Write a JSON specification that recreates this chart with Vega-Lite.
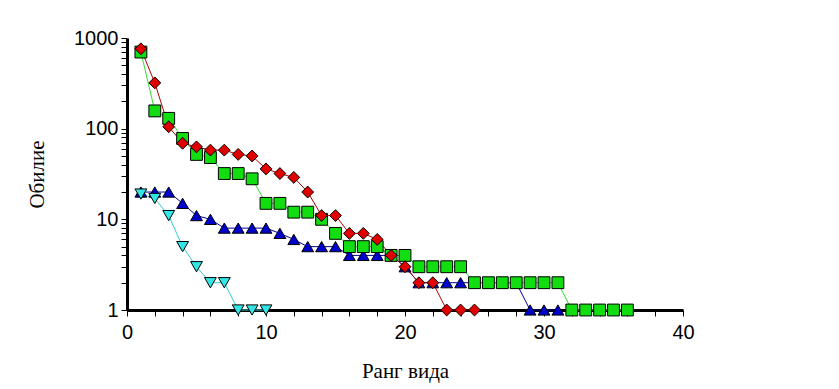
{
  "$schema": "https://vega.github.io/schema/vega-lite/v6.json",
  "autosize": {"type": "none"},
  "width": 556,
  "height": 272,
  "padding": {"left": 127, "top": 38, "right": 156, "bottom": 79},
  "background": "white",
  "config": {"view": {"stroke": null}},
  "data": {"values": [
    {"s": "1", "r": 1, "v": 20}, {"s": "1", "r": 2, "v": 20}, {"s": "1", "r": 3, "v": 20}, {"s": "1", "r": 4, "v": 15},
    {"s": "1", "r": 5, "v": 11}, {"s": "1", "r": 6, "v": 10}, {"s": "1", "r": 7, "v": 8}, {"s": "1", "r": 8, "v": 8},
    {"s": "1", "r": 9, "v": 8}, {"s": "1", "r": 10, "v": 8}, {"s": "1", "r": 11, "v": 7}, {"s": "1", "r": 12, "v": 6},
    {"s": "1", "r": 13, "v": 5}, {"s": "1", "r": 14, "v": 5}, {"s": "1", "r": 15, "v": 5}, {"s": "1", "r": 16, "v": 4},
    {"s": "1", "r": 17, "v": 4}, {"s": "1", "r": 18, "v": 4}, {"s": "1", "r": 19, "v": 4}, {"s": "1", "r": 20, "v": 3},
    {"s": "1", "r": 21, "v": 2}, {"s": "1", "r": 22, "v": 2}, {"s": "1", "r": 23, "v": 2}, {"s": "1", "r": 24, "v": 2},
    {"s": "1", "r": 25, "v": 2}, {"s": "1", "r": 26, "v": 2}, {"s": "1", "r": 27, "v": 2}, {"s": "1", "r": 28, "v": 2},
    {"s": "1", "r": 29, "v": 1}, {"s": "1", "r": 30, "v": 1}, {"s": "1", "r": 31, "v": 1},
    {"s": "2", "r": 1, "v": 700}, {"s": "2", "r": 2, "v": 157}, {"s": "2", "r": 3, "v": 130}, {"s": "2", "r": 4, "v": 78},
    {"s": "2", "r": 5, "v": 52}, {"s": "2", "r": 6, "v": 48}, {"s": "2", "r": 7, "v": 32}, {"s": "2", "r": 8, "v": 32},
    {"s": "2", "r": 9, "v": 28}, {"s": "2", "r": 10, "v": 15}, {"s": "2", "r": 11, "v": 15}, {"s": "2", "r": 12, "v": 12},
    {"s": "2", "r": 13, "v": 12}, {"s": "2", "r": 14, "v": 10}, {"s": "2", "r": 15, "v": 7}, {"s": "2", "r": 16, "v": 5},
    {"s": "2", "r": 17, "v": 5}, {"s": "2", "r": 18, "v": 5}, {"s": "2", "r": 19, "v": 4}, {"s": "2", "r": 20, "v": 4},
    {"s": "2", "r": 21, "v": 3}, {"s": "2", "r": 22, "v": 3}, {"s": "2", "r": 23, "v": 3}, {"s": "2", "r": 24, "v": 3},
    {"s": "2", "r": 25, "v": 2}, {"s": "2", "r": 26, "v": 2}, {"s": "2", "r": 27, "v": 2}, {"s": "2", "r": 28, "v": 2},
    {"s": "2", "r": 29, "v": 2}, {"s": "2", "r": 30, "v": 2}, {"s": "2", "r": 31, "v": 2}, {"s": "2", "r": 32, "v": 1},
    {"s": "2", "r": 33, "v": 1}, {"s": "2", "r": 34, "v": 1}, {"s": "2", "r": 35, "v": 1}, {"s": "2", "r": 36, "v": 1},
    {"s": "3", "r": 1, "v": 19}, {"s": "3", "r": 2, "v": 17}, {"s": "3", "r": 3, "v": 11}, {"s": "3", "r": 4, "v": 5},
    {"s": "3", "r": 5, "v": 3}, {"s": "3", "r": 6, "v": 2}, {"s": "3", "r": 7, "v": 2}, {"s": "3", "r": 8, "v": 1},
    {"s": "3", "r": 9, "v": 1}, {"s": "3", "r": 10, "v": 1},
    {"s": "4", "r": 1, "v": 760}, {"s": "4", "r": 2, "v": 320}, {"s": "4", "r": 3, "v": 105}, {"s": "4", "r": 4, "v": 69},
    {"s": "4", "r": 5, "v": 63}, {"s": "4", "r": 6, "v": 58}, {"s": "4", "r": 7, "v": 58}, {"s": "4", "r": 8, "v": 52},
    {"s": "4", "r": 9, "v": 50}, {"s": "4", "r": 10, "v": 36}, {"s": "4", "r": 11, "v": 32}, {"s": "4", "r": 12, "v": 29},
    {"s": "4", "r": 13, "v": 20}, {"s": "4", "r": 14, "v": 11}, {"s": "4", "r": 15, "v": 11}, {"s": "4", "r": 16, "v": 7},
    {"s": "4", "r": 17, "v": 7}, {"s": "4", "r": 18, "v": 6}, {"s": "4", "r": 19, "v": 4}, {"s": "4", "r": 20, "v": 3},
    {"s": "4", "r": 21, "v": 2}, {"s": "4", "r": 22, "v": 2}, {"s": "4", "r": 23, "v": 1}, {"s": "4", "r": 24, "v": 1},
    {"s": "4", "r": 25, "v": 1}
  ]},
  "encoding": {
    "x": {
      "field": "r", "type": "quantitative",
      "scale": {"domain": [0, 40], "nice": false, "zero": false},
      "axis": {
        "values": [0, 2, 4, 6, 8, 10, 12, 14, 16, 18, 20, 22, 24, 26, 28, 30, 32, 34, 36, 38, 40],
        "labelExpr": "datum.value % 10 === 0 ? datum.label : ''",
        "grid": false,
        "domainColor": "black", "domainWidth": 3,
        "tickColor": "black", "tickSize": 6, "tickWidth": 1,
        "labelFont": "Liberation Sans", "labelFontSize": 20, "labelColor": "black", "labelPadding": 6, "labelFlush": false,
        "title": "Ранг вида", "titleFont": "Liberation Serif", "titleFontSize": 21, "titleFontWeight": "normal",
        "titleColor": "black", "titlePadding": 18
      }
    },
    "y": {
      "field": "v", "type": "quantitative",
      "scale": {"type": "log", "domain": [1, 1000], "nice": false},
      "axis": {
        "values": [1, 2, 3, 4, 5, 6, 7, 8, 9, 10, 20, 30, 40, 50, 60, 70, 80, 90, 100, 200, 300, 400, 500, 600, 700, 800, 900, 1000],
        "labelExpr": "(datum.value === 1 || datum.value === 10 || datum.value === 100 || datum.value === 1000) ? datum.value + '' : ''",
        "grid": false,
        "domainColor": "black", "domainWidth": 3,
        "tickColor": "black", "tickSize": 6, "tickWidth": 1,
        "labelFont": "Liberation Sans", "labelFontSize": 20, "labelColor": "black", "labelPadding": 3,
        "title": "Обилие", "titleFont": "Liberation Serif", "titleFontSize": 21, "titleFontWeight": "normal",
        "titleColor": "black", "titlePadding": 26
      }
    }
  },
  "layer": [
    {
      "mark": {"type": "line", "strokeWidth": 1},
      "encoding": {
        "detail": {"field": "s"},
        "color": {"field": "s", "type": "nominal", "legend": null,
          "scale": {"domain": ["1", "2", "3", "4"], "range": ["#0000a0", "#33dd33", "#33cccc", "#b00000"]}}
      }
    },
    {
      "mark": {"type": "point", "filled": true, "stroke": "black", "strokeWidth": 1, "opacity": 1, "size": 140},
      "encoding": {
        "shape": {"field": "s", "type": "nominal",
          "scale": {"domain": ["1", "2", "3", "4"], "range": ["triangle-up", "square", "triangle-down", "diamond"]},
          "legend": {"title": null, "orient": "none", "legendX": 610, "legendY": 28, "rowPadding": 55,
            "symbolSize": 90, "symbolStrokeColor": "black",
            "labelFont": "Liberation Sans", "labelFontSize": 22, "labelColor": "black", "labelOffset": 10}},
        "fill": {"field": "s", "type": "nominal",
          "scale": {"domain": ["1", "2", "3", "4"], "range": ["#0000cc", "#11dd11", "#33e5e5", "#e00000"]},
          "legend": {"title": null, "orient": "none", "legendX": 610, "legendY": 28, "rowPadding": 55,
            "symbolSize": 90, "symbolStrokeColor": "black",
            "labelFont": "Liberation Sans", "labelFontSize": 22, "labelColor": "black", "labelOffset": 10}}
      }
    }
  ]
}
